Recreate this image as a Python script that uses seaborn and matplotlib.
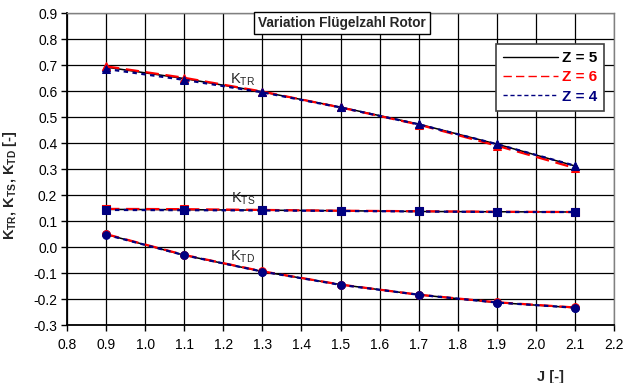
import matplotlib
matplotlib.use("Agg")
import matplotlib.pyplot as plt
import seaborn as sns
import pandas as pd
import numpy as np
from matplotlib.lines import Line2D

sns.set_style("white")
plt.rcParams['font.family'] = ['Liberation Sans', 'DejaVu Sans']
plt.rcParams['mathtext.fontset'] = 'custom'
plt.rcParams['mathtext.rm'] = 'Liberation Sans'
plt.rcParams['mathtext.bf'] = 'Liberation Sans:bold'

J = [0.9, 1.1, 1.3, 1.5, 1.7, 1.9, 2.1]

ktr_z5 = [0.692, 0.648, 0.597, 0.538, 0.473, 0.396, 0.312]
ktr_z6 = [0.695, 0.651, 0.598, 0.537, 0.471, 0.390, 0.304]
ktr_z4 = [0.685, 0.643, 0.595, 0.537, 0.472, 0.396, 0.313]

kts_z5 = [0.145, 0.144, 0.142, 0.140, 0.137, 0.136, 0.135]
kts_z6 = [0.147, 0.146, 0.143, 0.140, 0.138, 0.136, 0.135]
kts_z4 = [0.143, 0.142, 0.141, 0.139, 0.137, 0.135, 0.135]

ktd_z5 = [0.049, -0.031, -0.094, -0.144, -0.183, -0.213, -0.233]
ktd_z6 = [0.050, -0.030, -0.093, -0.144, -0.183, -0.212, -0.232]
ktd_z4 = [0.048, -0.031, -0.094, -0.145, -0.183, -0.213, -0.233]

z_labels = ["Z = 5", "Z = 6", "Z = 4"]
series = {
    "Z = 5": {"TR": ktr_z5, "TS": kts_z5, "TD": ktd_z5},
    "Z = 6": {"TR": ktr_z6, "TS": kts_z6, "TD": ktd_z6},
    "Z = 4": {"TR": ktr_z4, "TS": kts_z4, "TD": ktd_z4},
}

line_style = {
    "Z = 5": dict(color="black", lw=1.1, dashes=None, mcolor="#000080"),
    "Z = 6": dict(color="#ff0000", lw=1.6, dashes=(6, 3), mcolor="#ff0000"),
    "Z = 4": dict(color="#000080", lw=1.6, dashes=(2, 2), mcolor="#000080"),
}
markers = {"TR": "^", "TS": "s", "TD": "o"}

fig = plt.figure(figsize=(6.26, 3.83), dpi=100)
ax = fig.add_axes([0.107, 0.151, 0.874, 0.815])

for z in z_labels:
    st = line_style[z]
    for k in ["TR", "TS", "TD"]:
        df = pd.DataFrame({"J": J, "K": series[z][k]})
        sns.lineplot(data=df, x="J", y="K", ax=ax, color=st["color"], lw=st["lw"],
                     marker=markers[k], markersize=6 if k != "TD" else 5.5,
                     markerfacecolor=st["mcolor"], markeredgecolor=st["mcolor"],
                     legend=False, zorder=3)
        line = ax.lines[-1]
        if st["dashes"] is not None:
            line.set_dashes(st["dashes"])

ax.set_xlim(0.8, 2.2)
ax.set_ylim(-0.3, 0.9)
xt = np.round(np.arange(0.8, 2.21, 0.1), 1)
yt = np.round(np.arange(-0.3, 0.91, 0.1), 1)
ax.set_xticks(xt)
ax.set_yticks(yt)
ax.set_xticklabels([f"{v:.1f}" for v in xt], fontsize=10)
ax.set_yticklabels([f"{v:.1f}" for v in yt], fontsize=10)
ax.grid(True, color="black", lw=0.9)
ax.set_axisbelow(True)
ax.tick_params(axis="x", direction="out", length=4, width=1, colors="black", pad=5.5, bottom=True)
ax.tick_params(axis="y", direction="out", length=4, width=1, colors="black", pad=3, left=True)
for s in ["left", "bottom"]:
    ax.spines[s].set_color("black")
    ax.spines[s].set_linewidth(1.3)
for s in ["right", "top"]:
    ax.spines[s].set_color("#808080")
    ax.spines[s].set_linewidth(1.0)

ax.set_xlabel("J [-]", fontsize=10.5, fontweight="bold")
ax.xaxis.set_label_coords(0.883, -0.145)
ax.set_ylabel(r"$\mathbf{K_{TR}}$, $\mathbf{K_{TS}}$, $\mathbf{K_{TD}}$ [-]", fontsize=10.5, fontweight="bold")
ax.yaxis.set_label_coords(-0.088, 0.45)

ax.text(0.503, 0.968, "Variation Flügelzahl Rotor", transform=ax.transAxes, ha="center", va="center",
        fontsize=9.8, fontweight="bold",
        bbox=dict(boxstyle="square,pad=0.3", fc="white", ec="black", lw=1))

ax.text(1.25, 0.642, r"K$_{\mathrm{TR}}$", fontsize=10.5, ha="center", va="center")
ax.text(1.25, 0.185, r"K$_{\mathrm{TS}}$", fontsize=10.5, ha="center", va="center")
ax.text(1.25, -0.035, r"K$_{\mathrm{TD}}$", fontsize=10.5, ha="center", va="center")

leg_dashes = {"Z = 5": None, "Z = 6": (6, 3), "Z = 4": (3, 2)}
handles = []
for z in z_labels:
    st = line_style[z]
    h = Line2D([], [], color=st["color"], lw=1.0)
    if leg_dashes[z] is not None:
        h.set_dashes(leg_dashes[z])
    handles.append(h)
leg = ax.legend(handles, z_labels, loc="upper right", bbox_to_anchor=(0.981, 0.9),
                prop={"weight": "bold", "size": 11}, handlelength=3.6, fancybox=False,
                framealpha=1, edgecolor="#404040", borderpad=0.45, labelspacing=0.35,
                handletextpad=0.25, borderaxespad=0)
leg.get_frame().set_linewidth(1.2)
for t, z in zip(leg.get_texts(), z_labels):
    t.set_color(line_style[z]["color"])

fig.savefig("out.png", dpi=100)
